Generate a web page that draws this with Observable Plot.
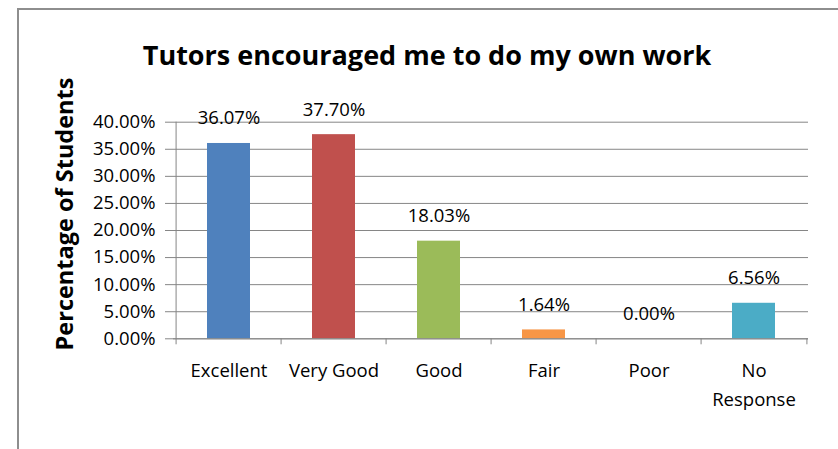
<!DOCTYPE html>
<html>
<head>
<meta charset="utf-8">
<script src="https://cdn.jsdelivr.net/npm/d3@7"></script>
<script src="https://cdn.jsdelivr.net/npm/@observablehq/plot@0.6"></script>
<style>
  html, body { margin: 0; padding: 0; background: #fff; }
  #wrap { position: relative; width: 838px; height: 449px; overflow: hidden; font-family: "Open Sans", sans-serif; }
  #border { position: absolute; left: 17px; top: 8px; width: 900px; height: 600px; border-left: 2px solid #8e8e8e; border-top: 2px solid #8e8e8e; box-sizing: border-box; }
  #title { position: absolute; left: 0; width: 854px; top: 36px; text-align: center; font-weight: bold; font-size: 27px; color: #000; white-space: nowrap; }
  #ylab { position: absolute; left: 64px; top: 214px; transform: translate(-50%, -50%) rotate(-90deg); font-weight: bold; font-size: 23.5px; white-space: nowrap; color: #000; }
  #chart { position: absolute; left: 0; top: 0; }
</style>
</head>
<body>
<div id="wrap">
  <div id="border"></div>
  <div id="chart"></div>
  <div id="title">Tutors encouraged me to do my own work</div>
  <div id="ylab">Percentage of Students</div>
</div>
<script>
const categories = ["Excellent", "Very Good", "Good", "Fair", "Poor", "No Response"];
const categoryLabels = ["Excellent", "Very Good", "Good", "Fair", "Poor", "No\nResponse"];
const values = [0.3607, 0.3770, 0.1803, 0.0164, 0.0000, 0.0656];
const colors = ["#4F81BD", "#C0504D", "#9BBB59", "#F79646", "#8064A2", "#4BACC6"];
const yTicks = [0, 0.05, 0.10, 0.15, 0.20, 0.25, 0.30, 0.35, 0.40];

const data = categories.map((c, i) => ({category: c, label: categoryLabels[i], value: values[i], color: colors[i]}));

const W = 838, H = 449;
const mL = 173, mR = 30, mT = 121.7, mB = 110.7;
const step = (W - mL - mR) / categories.length;
const gray = "#868686";
const fs = 18.5;

const chart = Plot.plot({
  width: W,
  height: H,
  marginLeft: mL,
  marginRight: mR,
  marginTop: mT,
  marginBottom: mB,
  style: {fontFamily: "'Open Sans', sans-serif", fontSize: fs + "px", color: "#000", background: "transparent"},
  x: {domain: categories, paddingInner: 0.594, paddingOuter: 0.297, axis: null},
  y: {domain: [0, 0.40], axis: null},
  marks: [
    Plot.gridY(yTicks, {stroke: gray, strokeOpacity: 1, strokeWidth: 1}),
    Plot.barY(data, {x: "category", y: "value", fill: "color"}),
    Plot.ruleX([0], {x: () => categories[0], y1: 0, y2: 0.40, dx: -step / 2, stroke: gray, strokeWidth: 1}),
    Plot.ruleY([0], {stroke: gray, strokeWidth: 1}),
    Plot.ruleX(categories, {x: d => d, y1: 0, y2: 0, insetBottom: -6, dx: -step / 2, stroke: gray}),
    Plot.ruleX([categories[categories.length - 1]], {x: d => d, y1: 0, y2: 0, insetBottom: -6, dx: step / 2, stroke: gray}),
    Plot.axisY({ticks: yTicks, tickFormat: d3.format(".2%"), tickSize: 8, tickPadding: 10, stroke: gray, label: null, fontSize: fs, fill: "#000"}),
    Plot.text(data, {x: "category", y: "value", text: d => d3.format(".2%")(d.value), dy: -19 - 0.32 * fs, fontSize: fs, fill: "#000"}),
    Plot.text(data, {x: "category", text: "label", frameAnchor: "bottom", lineAnchor: "top", dy: 17.5, lineHeight: 29 / fs, fontSize: fs, fill: "#000"})
  ]
});
document.getElementById("chart").appendChild(chart);
</script>
</body>
</html>
